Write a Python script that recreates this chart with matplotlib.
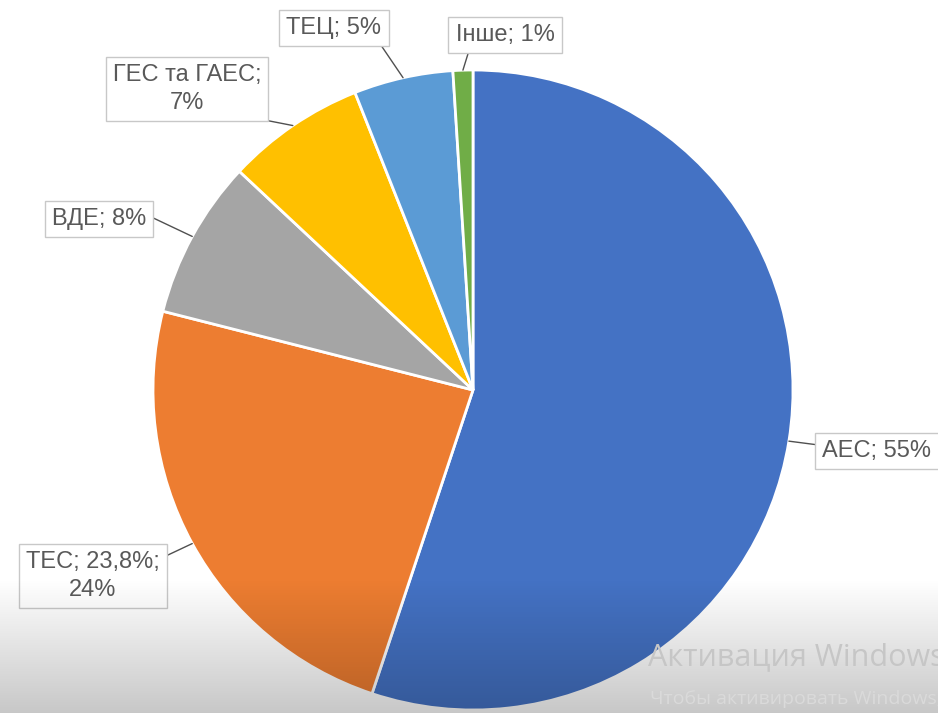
import numpy as np
import matplotlib.pyplot as plt

# energy mix shares, %
labels = ["АЕС", "ТЕС", "ВДЕ", "ГЕС та ГАЕС", "ТЕЦ", "Інше"]
shares = [55, 23.8, 8, 7, 5, 1]
label_texts = ["АЕС; 55%", "ТЕС; 23,8%;\n24%", "ВДЕ; 8%", "ГЕС та ГАЕС;\n7%", "ТЕЦ; 5%", "Інше; 1%"]
colors = ["#4472C4", "#ED7D31", "#A5A5A5", "#FFC000", "#5B9BD5", "#70AD47"]

W, H = 938, 713
fig = plt.figure(figsize=(W / 100, H / 100), dpi=100)
ax = fig.add_axes([0, 0, 1, 1])

cx, cy, r = 473, H - 390, 320
wedges, _ = ax.pie(shares, colors=colors, startangle=90, counterclock=False,
                   center=(cx, cy), radius=r,
                   wedgeprops=dict(edgecolor="white", linewidth=2))

# label box centres (pixel coords, from top) and where the leader leaves the box
text_pos = [(877, 451), (93, 576), (99, 219), (187, 89), (334, 28), (505, 35)]
rel = [(0, 0.75), (1, 0.85), (1, 0.7), (0.8, 0), (0.95, 0), (0.15, 0)]

for w, txt, (tx, ty), rp in zip(wedges, label_texts, text_pos, rel):
    mid = np.deg2rad((w.theta1 + w.theta2) / 2)
    px = cx + r * np.cos(mid)
    py = cy + r * np.sin(mid)
    ax.annotate(txt, xy=(px, py), xytext=(tx, H - ty), ha="center", va="center",
                fontsize=17, color="#595959", family="Liberation Sans",
                linespacing=1.3,
                bbox=dict(boxstyle="square,pad=0.3", fc="white", ec="#c8c8c8", lw=1),
                arrowprops=dict(arrowstyle="-", color="#505050", lw=1,
                                shrinkA=0, shrinkB=0, relpos=rp))

# darker band at the bottom of the frame
grad = np.zeros((100, 2, 4))
grad[..., 3] = np.linspace(0, 0.22, 100)[:, None]
ax.imshow(grad, extent=(0, W, 0, 135), aspect="auto", zorder=5)

# windows watermark
ax.text(648, H - 657, "Активация Windows", fontsize=22, color="#c6c6c6",
        family="Open Sans", va="center", zorder=6)
ax.text(650, H - 699, "Чтобы активировать Windows, перейдите в раздел \"Параметры\".",
        fontsize=14, color="#dadada", family="Open Sans", va="center", zorder=6)

ax.set_xlim(0, W)
ax.set_ylim(0, H)
ax.axis("off")

fig.savefig("out.png", dpi=100)
